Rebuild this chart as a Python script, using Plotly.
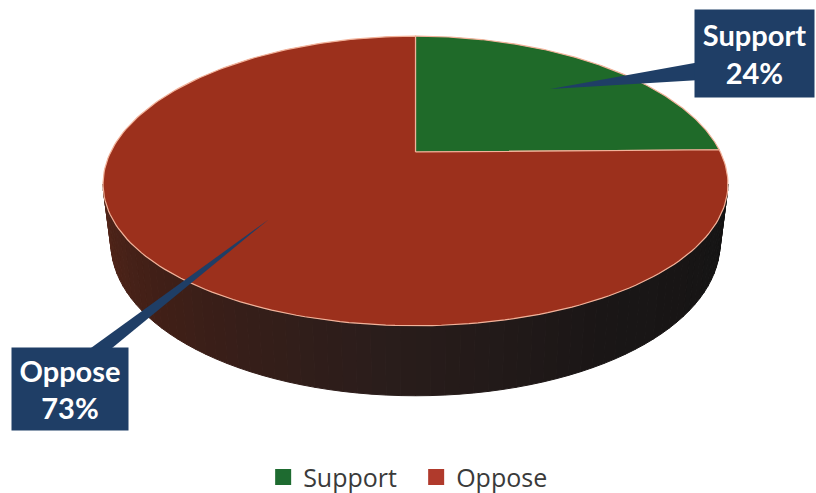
import numpy as np
import plotly.graph_objects as go

# ---------------- data ----------------
labels = ["Support", "Oppose"]
values = [24, 73]
top_colors = ["#1f6a29", "#9c301c"]
legend_colors = ["#1e6b30", "#b03a2c"]

# ---------------- layout constants (pixel-like data units) ----------------
W, H = 816, 493
CX, CY = 415.5, 152.0      # projected centre of the top face
RX, RY = 304.8, 139.0      # radii of the top face
K = 0.2                    # vertical perspective factor
KX = 0.22                  # horizontal perspective factor
DEPTH = 56.0               # thickness of the pie
SHRINK = 0.975             # bottom rim slightly smaller (vertical convergence)
EDGE = "#f2b29a"
NAVY = "#1f3e66"

def rim(theta, f=1.0, drop=0.0, g=1.0):
    t = np.radians(theta)
    u = f * np.sin(t)
    v = f * np.cos(t)
    return CX + g * RX * u / (1 + KX * v), CY + (drop - RY * v) / (1 + K * v)

total = float(sum(values))
bounds = np.concatenate([[0.0], np.cumsum(values) / total * 360.0])

fig = go.Figure()

# ---------------- side wall (front half) ----------------
th_r = np.degrees(np.arccos(-KX))
th_l = 360.0 - th_r
stops = [(th_r, (20, 20, 20)), (150, (26, 22, 22)), (185, (42, 29, 27)),
         (225, (64, 31, 23)), (th_l, (82, 37, 25))]
sx = [p[0] for p in stops]

def side_color(th):
    c = [np.interp(th, sx, [p[1][i] for p in stops]) for i in range(3)]
    return "rgb(%d,%d,%d)" % tuple(int(round(x)) for x in c)

N = 70
edges = np.linspace(th_r, th_l, N + 1)
for i in range(N):
    a0, a1 = edges[i], edges[i + 1]
    ts = np.linspace(a0, a1, 4)
    xt, yt = rim(ts)
    xb, yb = rim(ts[::-1], drop=DEPTH, g=SHRINK)
    col = side_color((a0 + a1) / 2)
    fig.add_trace(go.Scatter(
        x=np.concatenate([xt, xb, xt[:1]]), y=np.concatenate([yt, yb, yt[:1]]),
        mode="lines", fill="toself", fillcolor=col,
        line=dict(color=col, width=1), hoverinfo="skip", showlegend=False))

# ---------------- top face slices ----------------
for i, lab in enumerate(labels):
    ts = np.linspace(bounds[i], bounds[i + 1], 200)
    xa, ya = rim(ts)
    x = np.concatenate([[CX], xa, [CX]])
    y = np.concatenate([[CY], ya, [CY]])
    fig.add_trace(go.Scatter(
        x=x, y=y, mode="lines", fill="toself", fillcolor=top_colors[i],
        line=dict(color=EDGE, width=1.2), name=lab,
        hovertemplate=f"{lab}: {values[i]}%<extra></extra>", showlegend=False))

# ---------------- legend entries ----------------
for i, lab in enumerate(labels):
    fig.add_trace(go.Scatter(
        x=[None], y=[None], mode="markers", name=lab,
        marker=dict(symbol="square", size=16, color=legend_colors[i]),
        showlegend=True))

# ---------------- callout labels ----------------
box_centers = [(754.0, 53.5), (70.0, 389.0)]
box_sizes = [(119, 87), (116, 82)]
tip_frac = [0.70, 0.62]
bases = [[(700, 62), (700, 80)], [(84, 353), (106, 353)]]

shapes = []
annotations = []
for i, lab in enumerate(labels):
    mid = (bounds[i] + bounds[i + 1]) / 2
    tx, ty = rim(mid, f=tip_frac[i])
    (bx1, by1), (bx2, by2) = bases[i]
    shapes.append(dict(
        type="path", xref="x", yref="y",
        path=f"M {tx:.1f},{ty:.1f} L {bx1},{by1} L {bx2},{by2} Z",
        fillcolor=NAVY, line=dict(width=0), layer="above"))
    bw, bh = box_sizes[i]
    annotations.append(dict(
        x=box_centers[i][0], y=box_centers[i][1], xref="x", yref="y",
        text=f"<b>{lab}<br>{values[i]}%</b>", showarrow=False,
        width=bw, height=bh, bgcolor=NAVY, borderpad=0, align="center",
        valign="middle",
        font=dict(family="Lato", size=29, color="white")))

fig.update_layout(
    width=W, height=H,
    margin=dict(l=0, r=0, t=0, b=0, autoexpand=False),
    paper_bgcolor="white", plot_bgcolor="white",
    xaxis=dict(range=[0, W], visible=False, fixedrange=True),
    yaxis=dict(range=[H, 0], visible=False, fixedrange=True),
    shapes=shapes, annotations=annotations,
    showlegend=True,
    legend=dict(orientation="h", x=0.51, xanchor="center", y=0.032,
                yanchor="middle", entrywidth=108, entrywidthmode="pixels",
                font=dict(family="Open Sans", size=25, color="#3a3a3a"),
                bgcolor="rgba(0,0,0,0)"),
)

fig.write_html("out.html")
